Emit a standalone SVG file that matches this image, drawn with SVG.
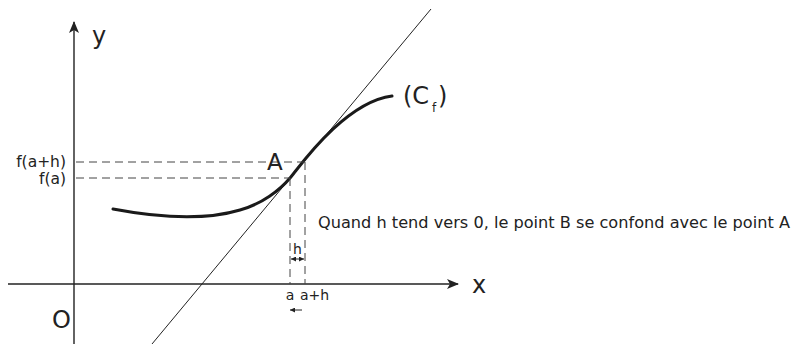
<svg xmlns="http://www.w3.org/2000/svg" width="792" height="344" viewBox="0 0 792 344">
<style>
text{font-family:"DejaVu Sans",Verdana,sans-serif;fill:#222}
.ax{stroke:#222;stroke-width:1.4;fill:none}
.dash{stroke:#444;stroke-width:1;stroke-dasharray:8 5;fill:none}
.thin{stroke:#222;stroke-width:1;fill:none}
</style>
<defs>
<marker id="ah" viewBox="0 0 12 10" refX="11" refY="5" markerWidth="12" markerHeight="10" markerUnits="userSpaceOnUse" orient="auto">
<path d="M0,0 L12,5 L0,10 L3,5 Z" fill="#222"/>
</marker>
<marker id="sh" viewBox="0 0 6 6" refX="6" refY="3" markerWidth="5" markerHeight="5" markerUnits="userSpaceOnUse" orient="auto-start-reverse">
<path d="M0,0 L6,3 L0,6 Z" fill="#222"/>
</marker>
</defs>
<g id="axes">
<line class="ax" x1="74" y1="344" x2="74" y2="22" marker-end="url(#ah)"/>
<line class="ax" x1="8" y1="284" x2="458" y2="284" marker-end="url(#ah)"/>
<text x="92" y="44" font-size="24">y</text>
<text x="472" y="293" font-size="24">x</text>
<text x="52" y="328" font-size="24">O</text>
</g>
<g id="tangent">
<line class="thin" x1="152" y1="344" x2="431" y2="9"/>
</g>
<g id="curve">
<path d="M113,209 C150,216 200,222 240,210 C262,204 280,190 290,178 C300,166 345,102 392,96" stroke="#1a1a1a" stroke-width="3" fill="none" stroke-linecap="round"/>
<text x="403" y="104" font-size="24">(C</text>
<text x="432" y="112" font-size="12">f</text>
<text x="438" y="104" font-size="24">)</text>
</g>
<g id="guides">
<line class="dash" x1="76" y1="162" x2="305" y2="162"/>
<line class="dash" x1="76" y1="178" x2="290" y2="178"/>
<line class="dash" x1="290" y1="178" x2="290" y2="284"/>
<line class="dash" x1="305" y1="162" x2="305" y2="284"/>
<text x="66" y="167" font-size="15.5" text-anchor="end">f(a+h)</text>
<text x="66" y="184" font-size="15.5" text-anchor="end">f(a)</text>
<text x="267" y="170" font-size="23">A</text>
</g>
<g id="h-mark">
<line class="thin" x1="291" y1="259" x2="304" y2="259" marker-start="url(#sh)" marker-end="url(#sh)"/>
<text x="297.5" y="254" font-size="14" text-anchor="middle">h</text>
<text x="290" y="300" font-size="14" text-anchor="middle">a</text>
<text x="300" y="300" font-size="14">a+h</text>
<line class="thin" x1="302" y1="310" x2="290" y2="310" marker-end="url(#sh)"/>
</g>
<g id="note">
<text x="318" y="228" font-size="15.5" textLength="472" lengthAdjust="spacingAndGlyphs">Quand h tend vers 0, le point B se confond avec le point A</text>
</g>
</svg>
